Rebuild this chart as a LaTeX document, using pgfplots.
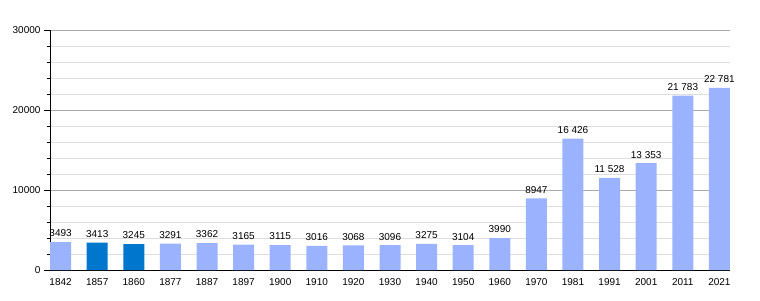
\documentclass[border=0pt]{standalone}
\usepackage{pgfplots}
\pgfplotsset{compat=1.18}
\usepackage{fontspec}
\setmainfont{Liberation Sans}
\definecolor{lightbar}{RGB}{155,179,255}
\definecolor{darkbar}{RGB}{0,119,204}
\begin{document}
\begin{tikzpicture}[x=1pt,y=1pt]
\path[use as bounding box] (0,0) rectangle (760,300);
\begin{axis}[
  at={(50pt,30pt)}, anchor=south west,
  scale only axis, width=680pt, height=240pt,
  xmin=-0.29, xmax=18.29, ymin=0, ymax=30000,
  axis x line=bottom, axis y line=left,
  axis line style={-, black},
  xtick={0,...,18},
  xticklabels={1842,1857,1860,1877,1887,1897,1900,1910,1920,1930,1940,1950,1960,1970,1981,1991,2001,2011,2021},
  x tick style={draw=none},
  ytick={0,10000,20000,30000},
  minor ytick={2000,4000,6000,8000,12000,14000,16000,18000,22000,24000,26000,28000},
  ymajorgrids, yminorgrids,
  major grid style={color=black!33},
  minor grid style={color=black!13},
  tick align=outside,
  major tick length=6pt, minor tick length=3pt,
  y tick style={black},
  scaled y ticks=false,
  yticklabel style={/pgf/number format/1000 sep={}},
  /pgf/number format/assume math mode=true,
  tick label style={font=\fontsize{10}{12}\selectfont},
  xticklabel style={yshift=1pt},
  nodes near coords,
  every node near coord/.append style={font=\fontsize{10}{12}\selectfont, black, yshift=1.5pt,
    /pgf/number format/.cd, 1000 sep={\ }, min exponent for 1000 sep=4, assume math mode=true},
]
\addplot[ybar, bar width=21pt, bar shift=0pt, fill=lightbar, draw=none] coordinates {
(0,3493) (3,3291) (4,3362) (5,3165) (6,3115) (7,3016) (8,3068) (9,3096) (10,3275) (11,3104) (12,3990) (13,8947) (14,16426) (15,11528) (16,13353) (17,21783) (18,22781)};
\addplot[ybar, bar width=21pt, bar shift=0pt, fill=darkbar, draw=none] coordinates {
(1,3413) (2,3245)};
\end{axis}
\end{tikzpicture}
\end{document}
